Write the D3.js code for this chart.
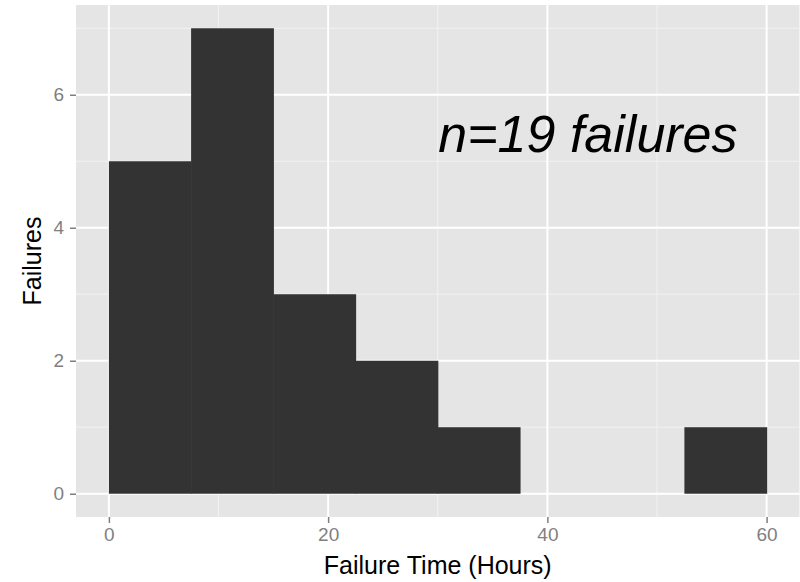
<!DOCTYPE html>
<html><head><meta charset="utf-8">
<script src="https://cdn.jsdelivr.net/npm/d3@7"></script>
<style>body{margin:0;background:#fff}svg{display:block}text{font-family:"Liberation Sans",Arial,sans-serif}</style>
</head><body>
<svg id="c" width="800" height="582"></svg>
<script>
const binStarts = [0, 7.5, 15, 22.5, 30, 37.5, 45, 52.5];
const binWidth = 7.5;
const counts = [5, 7, 3, 2, 1, 0, 0, 1];
const xTicks = [0, 20, 40, 60];
const xMinor = [10, 30, 50];
const yTicks = [0, 2, 4, 6];
const yMinor = [1, 3, 5, 7];
const annotation = {x: 43.7, y: 5.14, text: "n=19 failures"};
const xTitle = "Failure Time (Hours)";
const yTitle = "Failures";

const svg = d3.select("#c");
const L = 76, R = 799.5, T = 5, B = 517;
const x = d3.scaleLinear().domain([-3, 63]).range([L, R]);
const y = d3.scaleLinear().domain([-0.35, 7.35]).range([B, T]);

svg.append("rect").attr("x", L).attr("y", T).attr("width", R - L).attr("height", B - T).attr("fill", "#E5E5E5");

const g = svg.append("g");
g.selectAll(".xm").data(xMinor).join("line").attr("x1", d => x(d)).attr("x2", d => x(d)).attr("y1", T).attr("y2", B).attr("stroke", "#F2F2F2").attr("stroke-width", 1);
g.selectAll(".ym").data(yMinor).join("line").attr("y1", d => y(d)).attr("y2", d => y(d)).attr("x1", L).attr("x2", R).attr("stroke", "#F2F2F2").attr("stroke-width", 1);
g.selectAll(".xM").data(xTicks).join("line").attr("x1", d => x(d)).attr("x2", d => x(d)).attr("y1", T).attr("y2", B).attr("stroke", "#fff").attr("stroke-width", 2);
g.selectAll(".yM").data(yTicks).join("line").attr("y1", d => y(d)).attr("y2", d => y(d)).attr("x1", L).attr("x2", R).attr("stroke", "#fff").attr("stroke-width", 2);

svg.selectAll(".bar").data(counts.map((c, i) => ({s: binStarts[i], c}))).join("rect")
  .attr("x", d => x(d.s)).attr("width", d => x(d.s + binWidth) - x(d.s) + 0.6)
  .attr("y", d => y(d.c)).attr("height", d => y(0) - y(d.c))
  .attr("fill", "#333333");

const xa = svg.append("g").attr("transform", `translate(0,${B})`)
  .call(d3.axisBottom(x).tickValues(xTicks).tickSize(6).tickPadding(5).tickFormat(d3.format("d")));
const ya = svg.append("g").attr("transform", `translate(${L},0)`)
  .call(d3.axisLeft(y).tickValues(yTicks).tickSize(6).tickPadding(6).tickFormat(d3.format("d")));
[xa, ya].forEach(a => {
  a.select(".domain").remove();
  a.selectAll(".tick line").attr("stroke", "#7F7F7F").attr("stroke-width", 1.5);
  a.selectAll(".tick text").attr("fill", "#7F7F7F").style("font-size", "19px");
});

svg.append("text").attr("x", (L + R) / 2).attr("y", 574).attr("text-anchor", "middle")
  .style("font-size", "25px").attr("fill", "#000").text(xTitle);
svg.append("text").attr("transform", `translate(41,${(T + B) / 2}) rotate(-90)`).attr("text-anchor", "middle")
  .style("font-size", "25px").attr("fill", "#000").text(yTitle);

svg.append("text").attr("x", x(annotation.x)).attr("y", y(annotation.y)).attr("text-anchor", "middle")
  .style("font-size", "52px").style("font-style", "italic").attr("fill", "#000").text(annotation.text);
</script>
</body></html>
